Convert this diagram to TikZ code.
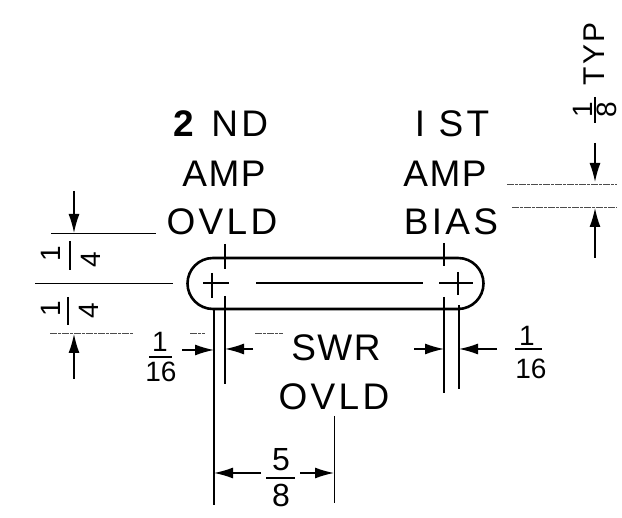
\documentclass[tikz,border=0pt]{standalone}
\usepackage{fontspec}
\setmainfont{Liberation Sans}
\newfontfamily\spacedfont[LetterSpace=9]{Liberation Sans}
\newfontfamily\tightfont[LetterSpace=4]{Liberation Sans}
\usetikzlibrary{arrows.meta}
\tikzset{
  lab/.style={inner sep=0pt,font=\fontsize{37}{37}\selectfont\spacedfont},
  tightlab/.style={inner sep=0pt,font=\fontsize{37}{37}\selectfont\tightfont},
  num/.style={inner sep=0pt,font=\fontsize{28}{28}\selectfont},
  bignum/.style={inner sep=0pt,font=\fontsize{32}{32}\selectfont},
  typ/.style={inner sep=0pt,font=\fontsize{30}{30}\selectfont\spacedfont},
  ext/.style={line width=1pt,black},
  extlight/.style={line width=0.8pt,black!70,dash pattern=on 7pt off 1pt on 3pt off 1pt},
  main/.style={line width=2.6pt,black},
  dimarrow/.style={line width=1.4pt,black,-{Latex[length=19pt,width=11pt]}},
  barline/.style={line width=2pt,black}
}
\begin{document}
\begin{tikzpicture}[x=1pt,y=-1pt]
\useasboundingbox (0,0) rectangle (622,518);
% slot
\draw[main] (213,258) -- (458,258) arc[start angle=-90,end angle=90,radius=25.5] -- (213,309) arc[start angle=90,end angle=270,radius=25.5] -- cycle;
% centre lines
\coordinate (cl) at (256,283); \coordinate (cr) at (423,283);
\draw[ext,line width=1.2pt] (cl) -- (cr);
\draw[ext,line width=1.4pt] (203,283) -- (229,283) (212,273) -- (212,298);
\draw[ext,line width=1.4pt] (439,283) -- (473,283) (458,272) -- (458,295);
% extension lines
\draw[ext] (51,234) -- (156,234);
\draw[ext] (35,284) -- (173,284);
\draw[extlight] (50,333) -- (133,333) (190,333) -- (205,333) (255,333) -- (283,333);
\draw[ext,line width=1.2pt] (225,244) -- (225,269) (225,296) -- (225,384);
\draw[ext,line width=1.4pt] (214,309) -- (214,505);
\draw[ext,line width=1.4pt] (444,243) -- (444,266) (444,297) -- (444,393);
\draw[ext,line width=1.4pt] (459,305) -- (459,389);
\draw[ext] (334,416) -- (334,503);
\draw[extlight] (507,184) -- (617,184) (512,207) -- (617,207);
% named arrow ends
\coordinate (a1s) at (74,191); \coordinate (a1e) at (74,233);
\coordinate (a2s) at (74,379); \coordinate (a2e) at (74,334);
\coordinate (a3s) at (595,143); \coordinate (a3e) at (595,182);
\coordinate (a4s) at (595,258); \coordinate (a4e) at (595,208);
\coordinate (a5s) at (182,350); \coordinate (a5e) at (214,350);
\coordinate (a6s) at (253,349); \coordinate (a6e) at (225,349);
\coordinate (a7s) at (414,349); \coordinate (a7e) at (444,349);
\coordinate (a8s) at (497,349); \coordinate (a8e) at (459,349);
\coordinate (a9s) at (261,473); \coordinate (a9e) at (214,473);
\coordinate (a10s) at (300,473); \coordinate (a10e) at (334,473);
\foreach \n in {1,...,10}{\draw[dimarrow] (a\n s) -- (a\n e);}
% labels
\node[lab] (t1) at (221,124) {\textbf{2} ND};
\node[tightlab] (t2) at (224,174) {AMP};
\node[lab] (t3) at (222,222) {OVLD};
\node[lab] (t4) at (452,124) {I ST};
\node[tightlab] (t5) at (445,174) {AMP};
\node[lab] (t6) at (451,222) {BIAS};
\node[tightlab] (t7) at (336,348) {SWR};
\node[lab] (t8) at (334,397) {OVLD};
% fractions
\node[num,rotate=90] (f1a) at (51,254) {1};
\node[num,rotate=90] (f1b) at (91,260) {4};
\draw[barline] (70,241) -- (70,270);
\node[num,rotate=90] (f2a) at (51,309) {1};
\node[num,rotate=90] (f2b) at (89,311) {4};
\draw[barline] (68,297) -- (68,325);
\node[num] (f3a) at (160,342) {1};
\draw[barline] (149,357) -- (172,357);
\node[num] (f3b) at (161,372) {16};
\node[num] (f4a) at (527,336) {1};
\draw[barline] (515,349) -- (542,349);
\node[num] (f4b) at (531,369) {16};
\node[bignum] (f5a) at (281,460) {5};
\draw[barline,line width=2.2pt] (266,478) -- (295,478);
\node[bignum] (f5b) at (281,495) {8};
\node[num,rotate=90] (f6a) at (583,110) {1};
\draw[barline] (595,97) -- (595,123);
\node[num,rotate=90] (f6b) at (607,110) {8};
\node[typ,rotate=90] (f6c) at (594,54) {TYP};
\end{tikzpicture}
\end{document}
